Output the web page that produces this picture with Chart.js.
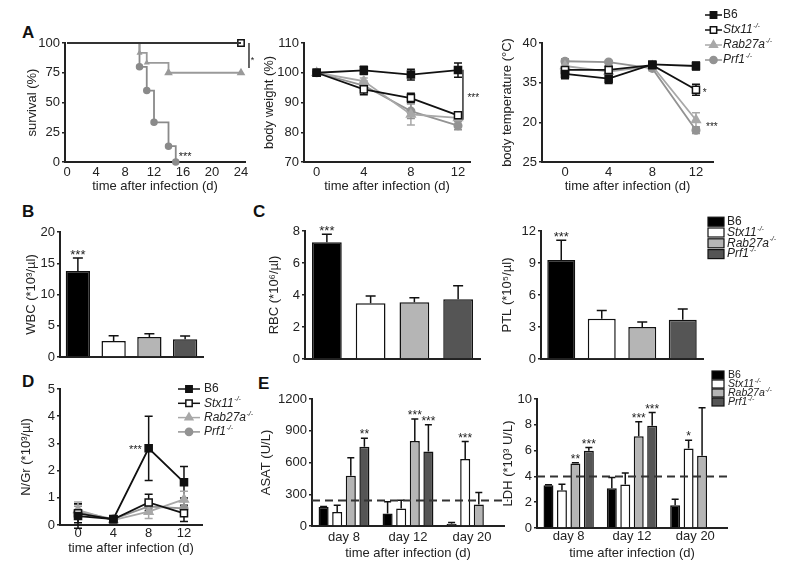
<!DOCTYPE html>
<html><head><meta charset="utf-8">
<script src="https://cdn.jsdelivr.net/npm/chart.js@4.4.1/dist/chart.umd.min.js"></script>
<style>
html,body{margin:0;padding:0;background:#fff}
body{width:800px;height:569px;position:relative;overflow:hidden;font-family:"Liberation Sans",Arial,sans-serif}
canvas{position:absolute}
.pl{position:absolute;font-weight:bold;font-size:17px;line-height:17px;color:#111}
</style></head><body>
<div class="pl" style="left:22px;top:24px">A</div>
<div class="pl" style="left:22px;top:203px">B</div>
<div class="pl" style="left:253px;top:203px">C</div>
<div class="pl" style="left:22px;top:373px">D</div>
<div class="pl" style="left:258px;top:375px">E</div>
<script>
const FONT = '"Liberation Sans", Arial, Helvetica, sans-serif';

// ===================== DATA =====================
const genotypes = ['B6', 'Stx11', 'Rab27a', 'Prf1'];
const genoSup = ['', '-/-', '-/-', '-/-'];
const dayTicks = [0, 4, 8, 12];
const days = [0, 4, 8, 12];

// A - survival (Kaplan-Meier steps)
const survTicks = [0, 4, 8, 12, 16, 20, 24];
const survYTicks = [0, 25, 50, 75, 100];
const survB6Days = [0, 24];                   const survB6Pct = [100, 100];
const survStx11Days = [0, 24];                const survStx11Pct = [100, 100];
const survRab27aDays = [0, 10, 11, 14, 24];   const survRab27aPct = [100, 91.7, 83.3, 75, 75];
const survPrf1Days = [0, 10, 11, 12, 14, 15]; const survPrf1Pct = [100, 80, 60, 33.3, 13.3, 0];

// A - body weight (%)
const weightYTicks = [70, 80, 90, 100, 110];
const weightB6 = [100, 100.8, 99.4, 100.9];     const weightB6Err = [0.4, 1.4, 1.8, 2.4];
const weightStx11 = [100, 94.4, 91.5, 85.7];    const weightStx11Err = [0.4, 1.8, 1.6, 1.0];
const weightRab27a = [100, 97.2, 86.0, 84.8];   const weightRab27aErr = [0.3, 1.0, 3.6, 1.2];
const weightPrf1 = [100, 95.7, 87.1, 82.2];     const weightPrf1Err = [0.3, 1.5, 2.5, 1.4];

// A - body temperature (°C)
const tempYTicks = [25, 30, 35, 40];
const tempYLabels = ['25', '20', '35', '40'];
const tempB6 = [36.1, 35.5, 37.3, 37.1];        const tempB6Err = [0.6, 0.6, 0.3, 0.5];
const tempStx11 = [36.6, 36.6, 37.2, 34.1];     const tempStx11Err = [0.3, 0.5, 0.3, 0.7];
const tempRab27a = [37.1, 36.4, 37.1, 30.3];    const tempRab27aErr = [0.3, 0.3, 0.3, 0.9];
const tempPrf1 = [37.7, 37.6, 36.8, 29.0];      const tempPrf1Err = [0.3, 0.2, 0.3, 0.4];

// B - WBC
const wbcTicks = [0, 5, 10, 15, 20];
const wbc = [13.76, 2.56, 3.2, 2.83];  const wbcErr = [2.1, 0.85, 0.53, 0.53];  const wbcStars = ['***', '', '', ''];
// C - RBC, PTL
const rbcTicks = [0, 2, 4, 6, 8];
const rbc = [7.29, 3.48, 3.54, 3.73];  const rbcErr = [0.5, 0.46, 0.29, 0.85];  const rbcStars = ['***', '', '', ''];
const ptlTicks = [0, 3, 6, 9, 12];
const ptl = [9.27, 3.77, 2.99, 3.67];  const ptlErr = [1.86, 0.78, 0.49, 1.02]; const ptlStars = ['***', '', '', ''];

// D - N/Gr
const ngrTicks = [0, 1, 2, 3, 4, 5];
const ngrB6 = [0.33, 0.22, 2.82, 1.57];     const ngrB6Err = [0.45, 0.12, 1.18, 0.58];
const ngrStx11 = [0.43, 0.21, 0.83, 0.43];  const ngrStx11Err = [0.35, 0.1, 0.3, 0.3];
const ngrRab27a = [0.55, 0.18, 0.49, 0.94]; const ngrRab27aErr = [0.3, 0.12, 0.25, 0.3];
const ngrPrf1 = [0.49, 0.22, 0.68, 0.61];   const ngrPrf1Err = [0.2, 0.1, 0.2, 0.25];

// E - ASAT, LDH
const liverDays = ['day 8', 'day 12', 'day 20'];
const asatTicks = [0, 300, 600, 900, 1200];
const asatNormal = 240;
const asatB6 = [180, 117, 22];      const asatB6Err = [5, 111, 10];    const asatB6Stars = ['', '', ''];
const asatStx11 = [133, 165, 633];  const asatStx11Err = [63, 79, 165]; const asatStx11Stars = ['', '', '***'];
const asatRab27a = [475, 804, 203]; const asatRab27aErr = [171, 206, 114]; const asatRab27aStars = ['', '***', ''];
const asatPrf1 = [750, 703, null];  const asatPrf1Err = [80, 253, null]; const asatPrf1Stars = ['**', '***', ''];
const ldhTicks = [0, 2, 4, 6, 8, 10];
const ldhNormal = 4;
const ldhB6 = [3.32, 3.08, 1.76];   const ldhB6Err = [0.04, 0.83, 0.47];  const ldhB6Stars = ['', '', ''];
const ldhStx11 = [2.93, 3.37, 6.17]; const ldhStx11Err = [0.46, 0.9, 0.64]; const ldhStx11Stars = ['', '', '*'];
const ldhRab27a = [5.0, 7.12, 5.6]; const ldhRab27aErr = [0.05, 1.12, 3.73]; const ldhRab27aStars = ['**', '***', ''];
const ldhPrf1 = [5.98, 7.93, null]; const ldhPrf1Err = [0.26, 1.03, null]; const ldhPrf1Stars = ['***', '***', ''];

// ===================== STYLES =====================
const AX = '#222';
const AXW = 2;
const lineStyles = [
  { color: '#111', fill: '#111', pointStyle: 'rect', r: 5 },
  { color: '#111', fill: '#fff', pointStyle: 'rect', r: 5 },
  { color: '#a8a8a8', fill: '#a8a8a8', pointStyle: 'triangle', r: 5 },
  { color: '#939393', fill: '#939393', pointStyle: 'circle', r: 3.8 }
];
const barColors = ['#000000', '#ffffff', '#b5b5b5', '#555555'];

Chart.defaults.font.family = FONT;
Chart.defaults.font.size = 13;
Chart.defaults.color = AX;

// ===================== PLUGINS =====================
function drawErr(chart, after) {
  const ctx = chart.ctx, ys = chart.scales.y;
  chart.data.datasets.forEach((ds, di) => {
    if (!ds.err) return;
    const meta = chart.getDatasetMeta(di);
    ctx.save();
    meta.data.forEach((el, i) => {
      const raw = ds.data[i];
      const v = (raw && typeof raw === 'object') ? raw.y : raw;
      const e = ds.err[i];
      if (v == null || e == null) return;
      const x = el.x, yT = ys.getPixelForValue(v + e);
      if (!after) {
        const yB = ys.getPixelForValue(ds.errBoth ? v - e : v);
        const cw = ds.capW || 4;
        ctx.strokeStyle = ds.errColor || '#111'; ctx.lineWidth = 1.5;
        ctx.beginPath(); ctx.moveTo(x, yT); ctx.lineTo(x, yB);
        ctx.moveTo(x - cw, yT); ctx.lineTo(x + cw, yT);
        if (ds.errBoth) { ctx.moveTo(x - cw, yB); ctx.lineTo(x + cw, yB); }
        ctx.stroke();
      } else if (ds.stars && ds.stars[i]) {
        const s = ds.starSize || 12;
        ctx.font = s + 'px ' + FONT; ctx.fillStyle = '#222';
        ctx.textAlign = 'center'; ctx.textBaseline = 'alphabetic';
        ctx.fillText(ds.stars[i], x, yT - 6.7 + 0.575 * s);
      }
    });
    ctx.restore();
  });
}
const errPlugin = {
  id: 'errbars',
  beforeDatasetsDraw(chart) { drawErr(chart, false); },
  afterDatasetsDraw(chart) { drawErr(chart, true); }
};

function drawName(ctx, i, x, y, size) {
  const it = i > 0 ? 'italic ' : '';
  ctx.font = it + size + 'px ' + FONT; ctx.textAlign = 'left'; ctx.textBaseline = 'middle';
  ctx.fillText(genotypes[i], x, y);
  if (genoSup[i]) {
    const w = ctx.measureText(genotypes[i]).width;
    ctx.font = it + Math.round(size * 0.62) + 'px ' + FONT;
    ctx.fillText(genoSup[i], x + w + 0.5, y - size * 0.32);
  }
}
function drawLegend(ctx, L, offX, offY) {
  genotypes.forEach((g, i) => {
    const y = L.y0 + i * L.dy - offY;
    const x = L.x - offX;
    if (L.type === 'line') {
      const st = lineStyles[i];
      ctx.strokeStyle = st.color; ctx.lineWidth = 1.5;
      ctx.beginPath(); ctx.moveTo(x, y); ctx.lineTo(x + L.len, y); ctx.stroke();
      ctx.fillStyle = st.fill;
      Chart.helpers.drawPoint(ctx, { pointStyle: st.pointStyle, radius: st.pointStyle === 'circle' ? L.r * 0.8 : L.r, borderWidth: 1.5, rotation: 0 }, x + L.len / 2, y);
    } else {
      ctx.fillStyle = barColors[i]; ctx.strokeStyle = '#111'; ctx.lineWidth = 1.2;
      ctx.fillRect(x, y - L.h / 2, L.w, L.h); ctx.strokeRect(x, y - L.h / 2, L.w, L.h);
    }
    ctx.fillStyle = '#222';
    drawName(ctx, i, L.tx - offX, y, L.font);
  });
}
const annPlugin = {
  id: 'ann',
  afterDraw(chart, args, o) {
    const ctx = chart.ctx, xs = chart.scales.x, ys = chart.scales.y, ca = chart.chartArea;
    const offX = chart.canvas.offsetLeft, offY = chart.canvas.offsetTop;
    ctx.save();
    (o.hlines || []).forEach(h => {
      const y = ys.getPixelForValue(h.y);
      ctx.setLineDash([8, 5]); ctx.lineWidth = 2; ctx.strokeStyle = '#333';
      ctx.beginPath(); ctx.moveTo(ca.left, y); ctx.lineTo(ca.right + (h.ext || 0), y); ctx.stroke();
      ctx.setLineDash([]);
    });
    (o.vlines || []).forEach(l => {
      const x = xs.getPixelForValue(l.x);
      ctx.lineWidth = 1.5; ctx.strokeStyle = '#333';
      ctx.beginPath(); ctx.moveTo(x, ys.getPixelForValue(l.y1)); ctx.lineTo(x, ys.getPixelForValue(l.y2)); ctx.stroke();
    });
    (o.texts || []).forEach(t => {
      const s = t.size || 11;
      ctx.font = s + 'px ' + FONT; ctx.fillStyle = '#222'; ctx.textAlign = 'center'; ctx.textBaseline = 'alphabetic';
      ctx.fillText(t.text, xs.getPixelForValue(t.x), ys.getPixelForValue(t.y) + 0.575 * s);
    });
    if (o.legend) drawLegend(ctx, o.legend, offX, offY);
    ctx.restore();
  }
};

// ===================== AXES =====================
function yAx(min, max, ticks, title, labels) {
  return {
    type: 'linear', min, max,
    afterBuildTicks: s => { s.ticks = ticks.map(v => ({ value: v })); },
    ticks: { padding: 2, color: AX, font: { size: 13 }, callback: (v, i) => labels ? labels[i] : String(v) },
    grid: { display: true, drawOnChartArea: false, drawTicks: true, tickLength: 3, color: AX, lineWidth: 1.5 },
    border: { display: true, color: AX, width: AXW },
    title: { display: true, text: title, color: AX, font: { size: 13 }, padding: { top: 4, bottom: 4 } }
  };
}
function xLin(min, max, ticks, pad) {
  return {
    type: 'linear', min, max,
    afterBuildTicks: s => { s.ticks = ticks.map(v => ({ value: v })); },
    ticks: { padding: pad, color: AX, font: { size: 13 }, maxRotation: 0, autoSkip: false, callback: v => String(v) },
    grid: { display: false, drawTicks: false, tickLength: 0 },
    border: { display: true, color: AX, width: AXW },
    title: { display: true, text: 'time after infection (d)', color: AX, font: { size: 13 }, padding: { top: 4, bottom: 4 } }
  };
}
function xCat(show, pad) {
  return {
    type: 'category', offset: true,
    ticks: { display: show, padding: pad, color: AX, font: { size: 13 }, maxRotation: 0, autoSkip: false },
    grid: { display: false, drawTicks: false, tickLength: 0 },
    border: { display: true, color: AX, width: AXW },
    title: show ? { display: true, text: 'time after infection (d)', color: AX, font: { size: 13 }, padding: { top: 4, bottom: 4 } } : { display: false }
  };
}

// ===================== BUILD =====================
function build(g, type, datasets, xScale, yScale, ann, labels) {
  const c = document.createElement('canvas');
  const left = g.l - g.yW, top = g.t - g.pt;
  const w = g.r - g.l + g.yW + g.pr, h = g.b - g.t + g.pt + g.xH;
  c.width = w; c.height = h;
  c.style.left = left + 'px'; c.style.top = top + 'px';
  c.style.width = w + 'px'; c.style.height = h + 'px';
  document.body.appendChild(c);
  xScale.afterFit = s => { s.height = g.xH; };
  yScale.afterFit = s => { s.width = g.yW; };
  const data = { datasets };
  if (labels) data.labels = labels;
  return new Chart(c, {
    type, data,
    options: {
      responsive: false, animation: false, devicePixelRatio: 1,
      layout: { autoPadding: false, padding: { left: 0, top: g.pt, right: g.pr, bottom: 0 } },
      scales: { x: xScale, y: yScale },
      plugins: { legend: { display: false }, tooltip: { enabled: false }, ann: ann || {} }
    },
    plugins: [errPlugin, annPlugin]
  });
}
function xy(ds, vs) { return ds.map((d, k) => ({ x: d, y: vs[k] })); }
function lineDS(i, xs, vals, err, extra) {
  const st = lineStyles[i];
  return Object.assign({
    label: genotypes[i], data: xy(xs, vals), err, errBoth: true, errColor: st.color, capW: 4,
    borderColor: st.color, borderWidth: 1.8, pointStyle: st.pointStyle, pointRadius: st.r,
    pointBackgroundColor: st.fill, pointBorderColor: st.color, pointBorderWidth: 1.5,
    tension: 0, clip: false
  }, extra || {});
}
function barSingle(vals, err, stars, bp) {
  return [{ data: vals, err, stars, capW: 5, starSize: 13, backgroundColor: barColors, borderColor: '#111', borderWidth: 1.5,
    barPercentage: bp, categoryPercentage: 1 }];
}
function barGroup(i, vals, err, stars) {
  return { label: genotypes[i], data: vals, err, stars, capW: 3.5, starSize: 12, backgroundColor: barColors[i],
    borderColor: '#111', borderWidth: 1.5, barPercentage: 0.74, categoryPercentage: 0.85 };
}

// A1 survival
build({ l: 65, r: 245, t: 43, b: 162, yW: 44, xH: 36, pt: 12, pr: 22 }, 'line', [
  lineDS(0, survB6Days, survB6Pct, null, { stepped: true, pointRadius: 0, borderColor: '#333' }),
  lineDS(1, survStx11Days, survStx11Pct, null, { stepped: true, pointRadius: [0, 4.5], borderColor: '#333' }),
  lineDS(2, survRab27aDays, survRab27aPct, null, { stepped: true, pointRadius: [0, 2, 2, 3.5, 3.5], borderColor: '#9a9a9a', pointBackgroundColor: '#9a9a9a', pointBorderColor: '#9a9a9a' }),
  lineDS(3, survPrf1Days, survPrf1Pct, null, { stepped: true, pointRadius: [0, 3, 3, 3, 3, 3], borderColor: '#8a8a8a', pointBackgroundColor: '#8a8a8a', pointBorderColor: '#8a8a8a' })
], xLin(-0.276, 24.55, survTicks, 3), yAx(0, 100, survYTicks, 'survival (%)'), {
  vlines: [{ x: 25.1, y1: 100, y2: 79 }],
  texts: [{ x: 25.6, y: 87.5, text: '*', size: 9 }, { x: 16.3, y: 7, text: '***', size: 11 }]
});

// A2 body weight
build({ l: 304, r: 470, t: 43, b: 162, yW: 46, xH: 36, pt: 12, pr: 30 }, 'line', [
  lineDS(0, days, weightB6, weightB6Err),
  lineDS(1, days, weightStx11, weightStx11Err),
  lineDS(2, days, weightRab27a, weightRab27aErr),
  lineDS(3, days, weightPrf1, weightPrf1Err)
], xLin(-1.08, 13.02, dayTicks, 3), yAx(70, 110, weightYTicks, 'body weight (%)'), {
  vlines: [{ x: 12.42, y1: 101, y2: 84.2 }],
  texts: [{ x: 13.3, y: 92.6, text: '***', size: 10 }]
});

// A3 body temperature + legend
build({ l: 542, r: 713, t: 43, b: 162, yW: 46, xH: 36, pt: 40, pr: 87 }, 'line', [
  lineDS(0, days, tempB6, tempB6Err),
  lineDS(1, days, tempStx11, tempStx11Err),
  lineDS(2, days, tempRab27a, tempRab27aErr),
  lineDS(3, days, tempPrf1, tempPrf1Err)
], xLin(-2.107, 13.56, dayTicks, 3), yAx(25, 40, tempYTicks, 'body temperature (°C)', tempYLabels), {
  texts: [{ x: 12.8, y: 34.1, text: '*', size: 10 }, { x: 13.46, y: 29.7, text: '***', size: 10 }],
  legend: { type: 'line', x: 705, len: 17, r: 4.5, tx: 723, y0: 15, dy: 15, font: 12 }
});

// B WBC
build({ l: 60, r: 203, t: 232, b: 357, yW: 40, xH: 12, pt: 14, pr: 10 }, 'bar',
  barSingle(wbc, wbcErr, wbcStars, 0.68),
  xCat(false, 0), yAx(0, 20, wbcTicks, 'WBC (*10³/µl)'), {}, genotypes);

// C RBC
build({ l: 305, r: 480, t: 231, b: 359, yW: 42, xH: 12, pt: 14, pr: 10 }, 'bar',
  barSingle(rbc, rbcErr, rbcStars, 0.68),
  xCat(false, 0), yAx(0, 8, rbcTicks, 'RBC (*10⁶/µl)'), {}, genotypes);

// C PTL + legend
build({ l: 541, r: 703, t: 231, b: 359, yW: 45, xH: 12, pt: 16, pr: 97 }, 'bar',
  barSingle(ptl, ptlErr, ptlStars, 0.69),
  xCat(false, 0), yAx(0, 12, ptlTicks, 'PTL (*10⁵/µl)'), {
    legend: { type: 'box', x: 708, w: 16, h: 9, tx: 727, y0: 221.7, dy: 10.8, font: 12 }
  }, genotypes);

// D N/Gr + legend
build({ l: 60, r: 202, t: 389, b: 525, yW: 45, xH: 35, pt: 12, pr: 72 }, 'line', [
  lineDS(0, days, ngrB6, ngrB6Err),
  lineDS(1, days, ngrStx11, ngrStx11Err),
  lineDS(2, days, ngrRab27a, ngrRab27aErr),
  lineDS(3, days, ngrPrf1, ngrPrf1Err)
], xLin(-2.04, 14.04, dayTicks, 1), yAx(0, 5, ngrTicks, 'N/Gr (*10³/µl)'), {
  texts: [{ x: 6.5, y: 2.87, text: '***', size: 11 }],
  legend: { type: 'line', x: 178, len: 22, r: 4.5, tx: 204, y0: 389, dy: 14.3, font: 12 }
});

// E ASAT
build({ l: 312, r: 504, t: 399, b: 526, yW: 57, xH: 39, pt: 14, pr: 10 }, 'bar', [
  barGroup(0, asatB6, asatB6Err, asatB6Stars),
  barGroup(1, asatStx11, asatStx11Err, asatStx11Stars),
  barGroup(2, asatRab27a, asatRab27aErr, asatRab27aStars),
  barGroup(3, asatPrf1, asatPrf1Err, asatPrf1Stars)
], xCat(true, 4), yAx(0, 1200, asatTicks, 'ASAT (U/L)'), {
  hlines: [{ y: asatNormal, ext: 4 }]
}, liverDays);

// E LDH + legend
build({ l: 537, r: 727, t: 399, b: 528, yW: 40, xH: 37, pt: 32, pr: 73 }, 'bar', [
  barGroup(0, ldhB6, ldhB6Err, ldhB6Stars),
  barGroup(1, ldhStx11, ldhStx11Err, ldhStx11Stars),
  barGroup(2, ldhRab27a, ldhRab27aErr, ldhRab27aStars),
  barGroup(3, ldhPrf1, ldhPrf1Err, ldhPrf1Stars)
], xCat(true, 1), yAx(0, 10, ldhTicks, 'LDH (*10³ U/L)'), {
  hlines: [{ y: ldhNormal, ext: 0 }],
  legend: { type: 'box', x: 712, w: 12, h: 8, tx: 728, y0: 375, dy: 9, font: 10.5 }
}, liverDays);
</script>
</body></html>
